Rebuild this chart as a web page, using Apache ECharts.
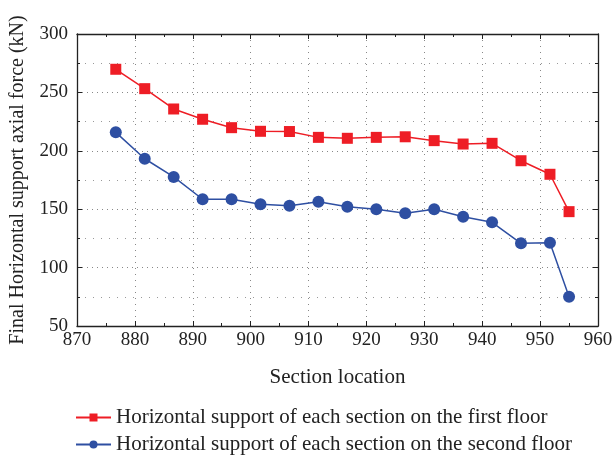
<!DOCTYPE html>
<html><head><meta charset="utf-8">
<script src="https://cdn.jsdelivr.net/npm/echarts@6/dist/echarts.min.js"></script>
<style>html,body{margin:0;padding:0;background:#fff}#c{width:616px;height:455px}</style>
</head><body><div id="c"></div>
<script>
const sections = [876.7, 881.7, 886.7, 891.7, 896.7, 901.7, 906.7, 911.7, 916.7, 921.7, 926.7, 931.7, 936.7, 941.7, 946.7, 951.7, 955];
const firstFloor = [269.8, 253.2, 235.8, 227, 219.8, 216.7, 216.5, 211.5, 210.7, 211.5, 212, 208.7, 205.8, 206.4, 191.5, 179.9, 147.9];
const secondFloor = [215.8, 193.2, 177.6, 158.5, 158.6, 154.2, 153, 156.4, 152.1, 149.9, 146.5, 149.9, 143.6, 138.8, 120.8, 121.3, 75.1];
const seriesNames = ['Horizontal support of each section on the first floor', 'Horizontal support of each section on the second floor'];
const xAxisName = 'Section location';
const yAxisName = 'Final Horizontal support axial force (kN)';

const font = 'Liberation Serif';
const chart = echarts.init(document.getElementById('c'));
const pair = (xs, ys) => xs.map((x, i) => [x, ys[i]]);
const tickStyle = {show: true, inside: true, length: 5, lineStyle: {color: '#222', width: 1}};
const minorTickStyle = {show: true, splitNumber: 2, length: 3, lineStyle: {color: '#222', width: 1}};
const legendBase = {
  orient: 'horizontal', left: 70, itemWidth: 35, itemHeight: 10,
  textStyle: {fontFamily: font, fontSize: 21, color: '#222'}
};
chart.setOption({
  animation: false,
  textStyle: {fontFamily: font},
  grid: {left: 76, right: 18, top: 34, bottom: 129},
  legend: [
    Object.assign({}, legendBase, {top: 402, data: [seriesNames[0]]}),
    Object.assign({}, legendBase, {top: 429, data: [seriesNames[1]]})
  ],
  xAxis: [{
    type: 'value', min: 870, max: 960, interval: 10,
    name: xAxisName, nameLocation: 'middle', nameGap: 41,
    nameTextStyle: {fontFamily: font, fontSize: 21, color: '#222'},
    axisLine: {lineStyle: {color: '#222', width: 1.3}},
    axisTick: tickStyle, minorTick: minorTickStyle,
    axisLabel: {fontFamily: font, fontSize: 19, color: '#222', margin: 5},
    splitLine: {show: true, lineStyle: {color: '#888', type: [1, 5], width: 1}}
  }, {
    type: 'value', min: 870, max: 960, interval: 10, position: 'top',
    axisLine: {show: true, lineStyle: {color: '#222', width: 1.3}},
    axisTick: tickStyle, minorTick: minorTickStyle,
    axisLabel: {show: false}, splitLine: {show: false}
  }],
  yAxis: [{
    type: 'value', min: 50, max: 300, interval: 50,
    name: yAxisName, nameLocation: 'middle', nameGap: 49,
    nameTextStyle: {fontFamily: font, fontSize: 20, color: '#222'},
    axisLine: {show: true, lineStyle: {color: '#222', width: 1.3}},
    axisTick: tickStyle, minorTick: minorTickStyle,
    axisLabel: {fontFamily: font, fontSize: 19, color: '#222', margin: 9},
    splitLine: {show: true, lineStyle: {color: '#888', type: [1, 4], width: 1}},
    minorSplitLine: {show: true, lineStyle: {color: '#999', type: [1, 7], width: 1}}
  }, {
    type: 'value', min: 50, max: 300, interval: 50, position: 'right',
    axisLine: {show: true, lineStyle: {color: '#222', width: 1.3}},
    axisTick: tickStyle, minorTick: minorTickStyle,
    axisLabel: {show: false}, splitLine: {show: false}
  }],
  series: [{
    name: seriesNames[0], type: 'line', data: pair(sections, firstFloor),
    symbol: 'rect', symbolSize: 11, color: '#EE1D25',
    lineStyle: {width: 1.5, color: '#EE1D25'}, itemStyle: {color: '#EE1D25'}
  }, {
    name: seriesNames[1], type: 'line', data: pair(sections, secondFloor),
    symbol: 'circle', symbolSize: 12, color: '#2E4FA2',
    lineStyle: {width: 1.5, color: '#2E4FA2'}, itemStyle: {color: '#2E4FA2'}
  }]
});
</script></body></html>
